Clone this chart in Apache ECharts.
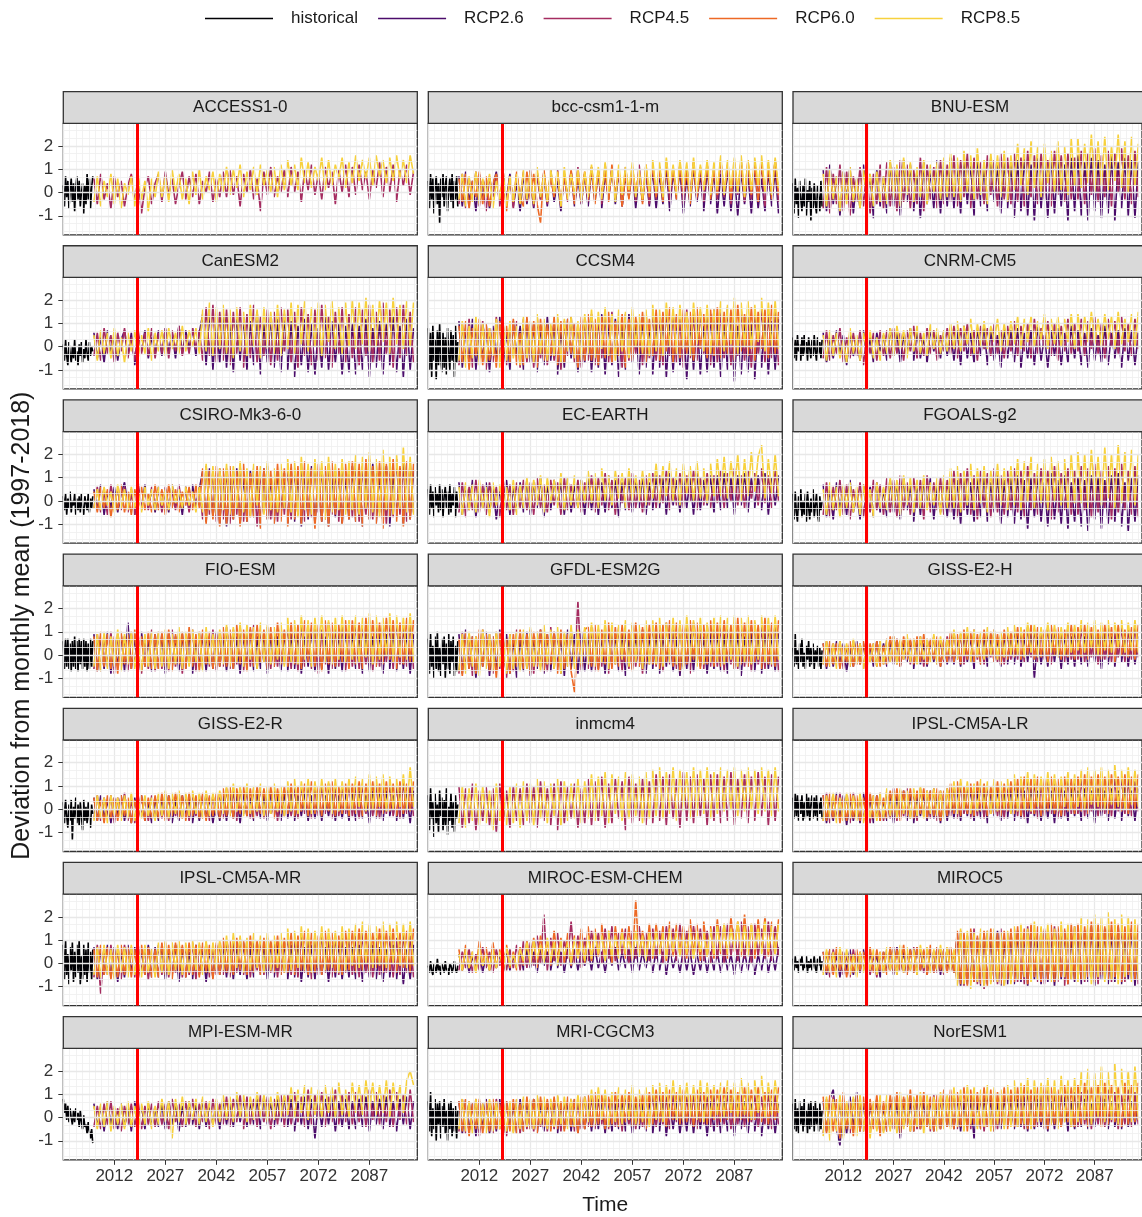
<!DOCTYPE html>
<html>
<head>
<meta charset="utf-8">
<script src="https://cdn.jsdelivr.net/npm/echarts@6/dist/echarts.min.js"></script>
<style>html,body{margin:0;padding:0;background:#fff}#chart{width:1142px;height:1217px}</style>
</head>
<body>
<div id="chart"></div>
<script>
// Monthly deviation series, stored in tenths of a unit.
// historical: 3 samples per year from 1997; RCP runs: one sample per year from 2006 to 2100.

const ACCESS1_0_hist = [3,-6,7,-2,5,-7,1,6,-4,4,-8,2,7,-3,5,-6,0,4,-9,3,-5,8,-3,6,-7,2,7];
const ACCESS1_0_rcp45 = [6,-5,8,-3,4,-7,7,-2,5,-6,3,8,-4,6,-9,2,7,-5,4,
8,-4,9,-1,6,-5,3,9,-3,7,-2,8,-5,5,0,9,-4,6,-2,
9,-2,10,-1,7,-6,8,0,10,-3,6,-8,9,-1,11,-2,7,0,10,
-2,11,0,9,-4,10,1,12,-1,8,-3,11,2,9,-5,10,0,12,-2,
11,-1,12,1,9,-3,10,2,13,-2,11,0,12,-4,10,3,12,-1,9];
const ACCESS1_0_rcp85 = [-4,7,-6,5,-2,8,-5,6,-7,4,-1,7,-6,8,-3,5,-8,6,-2,
9,-2,7,-4,10,0,8,-3,6,-5,9,-1,10,-3,7,1,9,-4,8,
0,11,-1,10,2,12,-2,9,1,11,-1,12,3,10,0,11,-2,12,1,
14,3,12,1,15,4,13,2,11,5,15,1,14,3,12,6,15,2,13,
4,16,5,14,6,15,3,16,7,14,4,15,5,16,6,14,4,16,8];

const bcc_csm1_1_m_hist = [5,-7,8,-3,6,-9,2,7,-5,4,-13,6,-2,8,-6,3,7,-8,1,6,-4,8,-7,5,-3,7,-6];
const bcc_csm1_1_m_rcp26 = [7,-6,9,-4,5,-8,8,-2,6,-7,3,9,-5,7,-3,8,-6,4,-8,
8,-5,6,-7,9,-3,7,-6,10,-4,5,-8,8,-2,9,-6,6,-5,8,
-6,10,-4,9,-7,8,-3,11,-5,9,-6,7,-2,10,-7,8,-4,9,-6,
10,-7,8,-5,11,-8,9,-3,10,-9,7,-6,11,-4,8,-8,10,-5,9,
-9,8,-6,10,-8,7,-10,9,-5,8,-9,11,-7,6,-8,9,-6,10,-9];
const bcc_csm1_1_m_rcp45 = [-5,8,-7,6,-3,9,-6,5,-8,7,-2,8,-6,9,-4,6,-7,8,-3,
9,-4,10,-6,7,-3,9,-5,8,-2,10,-6,7,-4,9,-3,11,-5,8,
-4,11,-2,9,-5,12,-3,10,-1,8,-6,11,-2,10,-4,12,-3,9,-5,
12,-3,11,-1,13,-4,10,-2,12,-5,11,0,13,-3,10,-4,12,-1,11,
-3,13,-2,11,-5,12,-1,14,-4,10,-3,13,-2,12,-6,11,-1,14,-4];
const bcc_csm1_1_m_rcp60 = [6,-4,8,-7,5,-2,9,-5,7,-6,4,8,-3,6,-8,7,-4,9,-2,
-6,9,-3,8,-5,-13,10,-4,7,-2,9,-6,8,-3,10,-5,7,-1,9,
-3,11,-5,10,-1,9,-4,12,-2,10,-6,8,-3,11,0,9,-5,12,-2,
12,-2,10,-4,13,0,11,-3,12,-1,9,-5,13,-2,11,1,12,-3,10,
-1,14,0,12,-3,13,1,11,-2,14,-1,12,-4,13,0,11,-3,14,-1];
const bcc_csm1_1_m_rcp85 = [-3,8,-6,7,-4,9,-5,6,-2,8,-7,5,-3,9,-6,7,-4,8,-5,
10,-3,9,-5,11,-2,8,-4,10,0,9,-6,11,-3,8,-1,10,-4,9,
-2,12,-1,11,-3,13,0,10,-4,12,-1,11,1,13,-2,10,-3,12,0,
14,0,13,-2,15,1,12,-1,14,2,13,-3,15,0,12,1,14,-1,13,
1,16,-1,14,2,15,0,16,-2,14,1,15,3,16,0,14,-1,15,2];

const BNU_ESM_hist = [4,-9,6,-5,2,-11,5,-3,-8,3,-6,6,-10,1,-4,5,-12,2,-7,4,-5,-9,3,-2,-8,5,-6];
const BNU_ESM_rcp26 = [10,-8,12,-5,7,-10,9,-3,11,-9,6,-7,12,-4,8,-11,10,-6,7,
-9,13,-6,11,-10,14,-4,12,-8,10,-11,13,-5,9,-7,14,-9,11,-6,
15,-7,12,-9,14,-5,13,-10,16,-6,11,-8,15,-4,12,-9,14,-7,13,
-11,14,-8,16,-10,12,-12,15,-7,13,-11,16,-9,14,-6,12,-12,15,-8,
16,-10,13,-12,15,-8,14,-11,12,-9,16,-12,13,-7,15,-10,14,-11,13];
const BNU_ESM_rcp45 = [-7,11,-9,8,-5,12,-8,9,-10,7,-4,11,-6,10,-9,8,-5,12,-7,
13,-6,11,-8,14,-4,12,-7,10,-5,15,-8,12,-3,11,-7,14,-5,12,
-4,16,-6,14,-2,17,-7,15,-3,13,-5,16,-1,14,-6,17,-3,15,-5,
17,-4,15,-6,18,-2,16,-5,17,-3,14,-6,18,-1,16,-4,17,-3,15,
-3,18,-5,17,-1,19,-4,16,-2,18,-6,17,0,19,-3,16,-5,18,-2];
const BNU_ESM_rcp85 = [8,-6,10,-3,7,-8,9,-5,11,-4,6,-7,10,-2,8,-6,9,-4,7,
-5,14,-3,12,-6,15,-1,13,-4,11,-2,14,-5,12,0,13,-3,15,-2,
17,-2,15,-4,18,0,16,-3,19,-1,14,-5,17,1,16,-2,18,-4,16,
1,21,3,19,-1,22,2,20,-2,21,4,18,0,22,1,20,-1,23,3,
23,2,21,4,25,0,22,3,24,1,20,5,25,2,22,0,24,3,21];

const CanESM2_hist = [1,-6,3,-4,-8,2,-3,-7,0,-5,3,-6,-2,-8,1,-4,2,-7,-1,-5,3,-3,-6,2,-4,0,-2];
const CanESM2_rcp26 = [6,-5,4,-7,7,-3,5,-6,3,7,-4,6,-8,5,-2,7,-5,4,-3,
7,-4,8,-2,6,-5,9,-3,7,-1,8,-4,6,14,-8,16,-10,13,-7,
15,-9,12,-11,14,-6,13,-10,11,-8,15,-12,10,-7,13,-9,12,-11,14,
-10,11,-13,9,-8,12,-11,10,-12,8,-9,13,-10,11,-7,10,-12,9,-11,
10,-12,9,-10,12,-13,8,-9,11,-12,10,-8,13,-11,9,-13,12,-10,8];
const CanESM2_rcp45 = [-4,6,-6,8,-3,5,-7,6,-2,8,-5,4,-6,7,-3,6,-4,8,-5,
6,-3,8,-5,7,-2,9,-4,5,-3,8,-1,7,-6,17,-4,18,-7,15,
-6,16,-8,15,-3,17,-9,14,-5,18,-7,13,-4,16,-8,15,-6,17,-2,
16,-7,15,-9,17,-4,14,-8,16,-6,18,-5,13,-9,15,-3,17,-7,14,
-5,17,-8,16,-4,18,-7,15,-6,19,-3,16,-9,17,-5,18,-4,15,-7];
const CanESM2_rcp85 = [5,-6,7,-3,6,-5,8,-4,4,-7,6,-2,7,-5,5,-3,8,-6,6,
-2,7,-4,8,-1,6,-3,9,-2,7,0,8,-3,16,-2,19,-4,17,-1,
18,-3,16,-5,17,-2,15,-4,18,0,16,-5,17,-1,15,-3,18,-4,16,
-1,19,-3,18,1,20,-2,17,0,19,-4,18,2,20,-1,17,-3,19,0,
20,-1,19,1,21,-2,18,0,20,2,19,-3,21,1,18,-1,20,0,19];

const CCSM4_hist = [8,-10,6,-13,9,-6,3,-14,7,-8,10,-5,-11,6,-9,4,-12,8,-3,-10,7,-6,5,-13,9,-7,2];
const CCSM4_rcp26 = [11,-9,8,-7,12,-10,6,-5,10,-11,9,-6,13,-8,7,-10,11,-4,9,
-10,12,-7,10,-11,9,-8,13,-6,11,-12,8,-9,12,-5,10,-11,9,-7,
13,-11,10,-9,14,-12,11,-8,12,-13,9,-10,14,-7,11,-12,13,-9,10,
-12,12,-9,14,-13,10,-11,13,-8,12,-14,11,-10,13,-12,9,-11,14,-9,
12,-13,11,-10,14,-15,9,-12,13,-11,10,-14,12,-9,13,-12,11,-10,12];
const CCSM4_rcp45 = [-8,10,-6,12,-9,9,-5,11,-10,8,-7,13,-6,10,-8,9,-4,11,-9,
12,-7,10,-9,13,-5,11,-8,9,-6,12,-10,11,-4,13,-7,10,-9,12,
-6,14,-8,12,-5,13,-7,15,-4,11,-9,14,-6,12,-3,13,-8,15,-5,
15,-6,13,-8,16,-4,14,-7,12,-9,16,-5,14,-6,15,-3,13,-8,16,
-7,15,-5,17,-8,14,-4,16,-6,13,-9,15,-3,17,-7,14,-5,16,-8];
const CCSM4_rcp60 = [9,-7,11,-10,8,-4,12,-8,10,-6,7,-9,11,-5,9,-7,12,-8,6,
-8,13,-5,11,-9,12,-6,10,-4,13,-8,11,-7,12,-3,10,-9,13,-6,
14,-6,12,-8,13,-5,15,-7,11,-4,14,-9,12,-6,13,-3,15,-7,12,
-4,16,-6,15,-2,17,-7,14,-5,16,-3,15,-6,17,-1,14,-5,16,-4,
17,-5,15,-3,16,-6,18,-2,14,-4,17,-6,15,-1,16,-5,18,-3,15];
const CCSM4_rcp85 = [-6,11,-9,9,-5,13,-8,10,-7,8,-4,12,-9,10,-6,11,-5,9,-8,
13,-5,11,-7,14,-3,12,-6,10,-4,14,-7,12,-2,13,-5,11,-6,14,
-3,16,-5,15,-1,17,-4,14,-6,16,-2,15,-5,17,0,14,-3,16,-4,
18,-2,16,-4,19,0,17,-3,18,-1,15,-4,19,1,17,-2,18,-3,16,
0,20,-2,18,1,21,-3,19,0,20,-1,18,2,21,-2,19,0,20,-1];

const CNRM_CM5_hist = [4,-5,3,-6,5,-2,1,-6,4,-4,5,-3,2,-6,4,-1,-5,3,-4,5,-2,-6,4,-3,2,-5,3];
const CNRM_CM5_rcp26 = [6,-7,4,-5,7,-3,5,-8,6,-4,3,-6,7,-5,4,-7,6,-2,5,
-6,8,-4,6,-7,5,-3,8,-6,7,-5,4,-7,8,-2,6,-5,7,-4,
8,-6,7,-8,9,-5,6,-7,8,-4,9,-8,7,-6,5,-9,8,-5,7,
-7,8,-9,6,-5,7,-8,9,-6,5,-9,7,-4,8,-8,6,-7,9,-5,
7,-8,6,-9,8,-6,5,-7,9,-8,6,-5,7,-9,8,-6,7,-8,6];
const CNRM_CM5_rcp45 = [-5,7,-6,5,-3,8,-7,4,-5,6,-4,7,-8,5,-3,6,-6,7,-4,
7,-5,8,-3,6,-6,7,-2,9,-5,6,-4,8,-3,7,-6,5,-2,8,
-3,9,-5,8,-2,10,-4,7,-6,9,-1,8,-4,10,-3,7,-5,9,-2,
11,-4,9,-2,10,-5,12,-3,8,-1,11,-4,10,-6,9,-2,12,-3,10,
-2,12,-4,11,-1,13,-3,10,-5,12,0,11,-3,13,-2,10,-4,12,-1];
const CNRM_CM5_rcp85 = [5,-6,7,-4,6,-5,3,-7,8,-3,5,-6,6,-2,7,-5,4,-6,6,
-3,8,-4,9,-1,7,-5,8,-2,9,-3,6,-4,10,-1,8,-3,7,-2,
10,-1,11,-2,9,1,12,-3,10,0,11,-1,9,2,12,-2,10,0,11,
1,13,-1,12,2,13,0,11,3,14,-1,12,1,13,0,12,2,14,-1,
14,0,13,2,15,1,12,0,14,3,13,-1,15,1,12,2,14,0,15];

const CSIRO_Mk3_6_0_hist = [2,-4,3,-6,1,-3,4,-5,0,-2,3,-6,1,-4,2,-5,3,-3,-6,2,-1,-4,3,-5,1,-3,2];
const CSIRO_Mk3_6_0_rcp26 = [5,-4,7,-6,4,-3,6,-5,3,8,-2,5,-6,4,-4,7,-3,5,-5,
6,-3,5,-5,7,-2,4,-6,6,-4,7,-3,5,13,-9,14,-7,12,-10,
13,-11,12,-8,14,-10,11,-9,13,-7,12,-11,14,-8,10,-10,13,-6,12,
-10,14,-9,12,-11,13,-8,15,-10,11,-9,14,-11,12,-7,13,-10,11,-8,
15,-9,13,-11,14,-8,16,-10,12,-9,15,-11,13,-7,14,-10,16,-8,13];
const CSIRO_Mk3_6_0_rcp45 = [-3,6,-5,4,-6,7,-2,5,-4,6,-5,3,-6,8,-3,5,-4,6,-2,
5,-5,6,-2,4,-4,7,-3,6,-5,4,-2,6,-8,15,-6,13,-9,14,
-8,14,-10,13,-6,15,-9,12,-7,14,-11,13,-5,15,-8,12,-9,14,-6,
15,-8,14,-6,16,-9,13,-7,15,-5,14,-8,16,-6,13,-9,15,-4,14,
-7,17,-9,15,-6,18,-8,16,-5,17,-10,15,-7,18,-6,16,-9,17,-5];
const CSIRO_Mk3_6_0_rcp60 = [4,-5,6,-3,5,-7,3,-4,7,-5,4,-6,5,-2,6,-4,3,-5,7,
-4,5,-6,7,-3,5,-5,4,-2,6,-4,7,-3,14,-10,13,-8,15,-11,
14,-10,15,-8,13,-11,16,-9,12,-7,15,-12,14,-8,13,-10,16,-9,14,
-11,16,-8,15,-10,17,-7,14,-12,16,-9,15,-11,17,-6,14,-10,16,-8,
17,-9,16,-11,18,-8,15,-10,17,-12,16,-7,18,-9,15,-11,17,-8,16];
const CSIRO_Mk3_6_0_rcp85 = [-3,5,-4,6,-2,4,-5,7,-3,5,-4,6,-3,4,-5,6,-2,5,-4,
6,-2,5,-4,7,-1,5,-3,6,-2,4,-5,6,-5,16,-4,15,-6,14,
-4,16,-6,15,-3,17,-5,14,-7,16,-2,15,-6,17,-4,14,-5,16,-3,
18,-5,17,-7,19,-4,16,-6,18,-3,17,-8,19,-5,16,-4,18,-6,17,
-4,20,-6,19,-3,21,-5,18,-7,22,-4,19,-6,20,-3,23,-5,19,-6];

const EC_EARTH_hist = [5,-6,7,-3,4,-7,6,-2,3,-5,7,-4,5,-7,2,6,-3,4,-6,7,-5,3,-2,6,-7,4,-3];
const EC_EARTH_rcp26 = [8,-6,7,-4,9,-7,6,-3,8,-5,7,-8,5,-4,9,-6,6,-5,8,
-5,9,-6,8,-3,10,-7,7,-4,9,-2,8,-6,10,-5,7,-3,9,-6,
10,-4,9,-6,8,-5,11,-3,9,-7,8,-4,10,-5,9,-3,11,-6,8,
-4,11,-3,10,-6,12,-2,9,-5,11,-3,10,-6,12,-4,9,-2,11,-5,
11,-4,12,-3,10,-6,11,-2,12,-5,10,-3,11,-4,12,-6,10,-2,11];
const EC_EARTH_rcp45 = [-5,8,-7,6,-4,9,-5,7,-6,8,-3,6,-7,9,-4,7,-6,8,-3,
9,-4,8,-6,10,-3,7,-5,9,-2,8,-6,10,-4,7,-3,9,-5,8,
-3,11,-5,10,-2,12,-4,9,-6,11,-1,10,-4,12,-3,9,-5,11,-2,
12,-3,11,-1,13,-4,10,-2,12,-3,11,0,13,-4,10,-2,12,-3,11,
-1,13,-3,12,0,14,-2,11,-3,13,1,12,-2,14,-1,11,-3,13,0];
const EC_EARTH_rcp85 = [6,-6,8,-4,7,-5,9,-3,6,-7,8,-2,7,-5,6,-4,9,-6,7,
-3,10,-4,9,-2,11,-5,10,-1,9,-3,12,-4,10,-2,11,-3,9,-1,
13,-1,12,-3,14,0,11,-2,13,1,12,-3,14,-1,11,0,13,-2,12,
1,16,-1,15,2,17,0,14,-2,16,3,15,0,17,1,14,-1,16,2,
18,2,19,1,17,3,20,0,18,2,21,4,19,24,1,18,3,20,2];

const FGOALS_g2_hist = [3,-8,4,-5,-9,2,-4,5,-7,0,-6,3,-9,4,-3,-8,1,-5,5,-7,-2,3,-6,-9,2,-4,0];
const FGOALS_g2_rcp26 = [7,-7,5,-8,8,-4,6,-6,9,-5,4,-8,7,-3,6,-7,8,-5,5,
-7,9,-5,8,-8,10,-4,7,-9,8,-6,9,-3,10,-8,7,-5,9,-7,
10,-8,9,-10,11,-6,8,-9,10,-7,12,-9,8,-5,11,-10,9,-7,10,
-10,11,-8,9,-12,10,-7,11,-9,8,-11,12,-8,9,-10,11,-12,8,-9,
10,-11,9,-13,11,-8,10,-12,9,-10,11,-9,12,-11,8,-13,10,-9,11];
const FGOALS_g2_rcp45 = [-6,8,-7,6,-4,9,-6,7,-8,5,-3,8,-7,6,-5,9,-4,7,-6,
10,-5,9,-7,11,-4,8,-6,10,-3,9,-8,11,-5,8,-4,10,-6,9,
-5,13,-7,12,-4,14,-6,11,-8,13,-3,12,-7,14,-5,11,-6,13,-4,
14,-5,13,-7,15,-4,12,-6,14,-3,13,-8,15,-5,12,-4,14,-6,13,
-6,15,-4,14,-7,16,-5,13,-3,15,-8,14,-5,16,-4,13,-6,15,-7];
const FGOALS_g2_rcp85 = [5,-6,8,-4,6,-7,7,-3,8,-5,6,-6,7,-4,5,-7,8,-3,6,
-4,10,-3,9,-6,11,-2,10,-5,9,-3,11,-4,8,-2,10,-6,11,-3,
14,-3,15,-5,13,-2,16,-4,14,-1,15,-5,13,-3,16,-2,14,-4,15,
-2,18,-4,17,0,19,-3,16,-1,18,-4,19,0,17,-2,18,-3,20,-1,
21,-1,20,-3,22,0,19,-2,23,1,20,-3,24,-1,21,0,22,-2,20];

const FIO_ESM_hist = [6,-6,7,-5,7,-6,5,-7,6,-5,8,-6,6,-7,7,-4,6,-6,7,-5,6,-7,5,-6,7,-5,6];
const FIO_ESM_rcp26 = [9,-7,8,-6,10,-8,7,-5,9,-7,14,-6,8,-8,10,-5,7,-7,9,
-6,9,-8,10,-5,8,-7,9,-6,10,-8,7,-5,9,-7,8,-6,10,-5,
9,-7,10,-6,8,-8,9,-5,11,-7,8,-6,10,-8,9,-5,8,-7,10,
-7,9,-6,10,-8,8,-5,11,-7,9,-6,8,-8,10,-6,9,-7,11,-5,
10,-6,9,-8,11,-7,8,-5,10,-8,9,-6,11,-7,8,-6,10,-8,9];
const FIO_ESM_rcp45 = [-6,9,-7,8,-5,10,-8,9,-6,8,-7,10,-5,9,-8,8,-6,11,-7,
10,-6,9,-7,11,-5,10,-8,9,-4,11,-7,10,-6,9,-5,11,-7,10,
-5,12,-6,11,-4,12,-7,10,-5,13,-6,11,-3,12,-6,10,-5,12,-4,
13,-6,12,-7,14,-5,12,-6,13,-8,11,-4,14,-6,12,-5,13,-7,12,
-5,14,-6,13,-4,15,-7,12,-5,14,-3,13,-6,15,-4,12,-5,14,-6];
const FIO_ESM_rcp60 = [8,-7,10,-5,9,-6,8,-8,10,-4,9,-6,11,-7,8,-5,10,-6,9,
-6,10,-5,11,-7,9,-4,10,-6,12,-5,9,-7,11,-4,10,-6,9,-5,
12,-5,11,-6,13,-4,11,-7,12,-5,13,-3,11,-6,12,-5,14,-4,11,
-5,14,-4,13,-6,15,-3,14,-5,13,-7,15,-4,14,-5,13,-3,15,-6,
15,-4,14,-6,16,-3,15,-5,14,-4,16,-2,15,-6,14,-4,16,-3,15];
const FIO_ESM_rcp85 = [-5,9,-7,10,-6,8,-5,11,-7,9,-4,10,-6,8,-7,9,-5,10,-6,
10,-5,11,-6,9,-4,12,-6,10,-5,11,-3,10,-7,12,-4,9,-5,11,
-4,13,-5,12,-3,14,-5,13,-2,12,-6,14,-3,13,-4,12,-2,14,-5,
16,-3,15,-4,17,-2,15,-5,16,-1,17,-3,15,-4,16,-2,17,-3,15,
-2,17,-3,16,-1,18,-4,17,-2,16,0,18,-3,17,-1,16,-2,18,-3];

const GFDL_ESM2G_hist = [7,-8,9,-5,4,-10,8,-6,10,-7,3,-9,7,-4,8,-10,5,-6,9,-8,6,-3,8,-9,4,-7,6];
const GFDL_ESM2G_rcp26 = [9,-8,11,-6,8,-10,7,-5,10,-9,8,-7,11,-6,9,-8,7,-10,8,
-7,10,-9,8,-6,11,-8,9,-7,10,-5,8,-9,11,-6,9,-8,10,-7,
9,-7,10,-6,8,-8,11,-5,9,-7,10,-9,8,-6,9,-5,11,-8,9,
-6,10,-8,9,-5,11,-7,8,-9,10,-6,9,-7,11,-5,8,-8,10,-6,
10,-7,9,-8,11,-6,10,-9,8,-5,10,-7,9,-8,11,-6,9,-7,10];
const GFDL_ESM2G_rcp45 = [-8,10,-6,9,-9,8,-7,11,-5,9,-8,10,-6,8,-10,9,-7,11,-6,
9,-6,11,-8,10,-5,9,-7,12,-6,10,-8,9,-5,11,-4,23,-7,10,
-6,12,-7,11,-5,13,-8,10,-4,12,-7,11,-6,13,-5,10,-8,12,-4,
13,-5,12,-7,14,-4,11,-6,13,-5,12,-8,14,-4,11,-6,13,-5,12,
-5,13,-7,12,-4,14,-6,13,-5,11,-7,14,-4,12,-6,13,-5,14,-7];
const GFDL_ESM2G_rcp60 = [7,-9,10,-6,8,-8,11,-5,9,-7,8,-10,10,-6,7,-8,9,-5,11,
-6,9,-8,10,-5,11,-7,9,-4,10,-8,11,-6,9,-7,-16,10,-5,11,
12,-5,13,-7,11,-4,14,-6,12,-5,13,-3,11,-7,14,-5,12,-4,13,
-4,14,-6,13,-3,15,-5,14,-7,13,-4,15,-2,14,-6,13,-4,15,-5,
14,-5,15,-3,13,-6,16,-4,14,-5,15,-3,13,-6,16,-4,14,-5,15];
const GFDL_ESM2G_rcp85 = [-7,9,-8,10,-5,8,-9,11,-6,9,-7,10,-5,8,-8,9,-6,10,-7,
11,-6,12,-5,10,-7,13,-4,11,-6,12,-8,10,-5,13,-6,11,-4,12,
-4,14,-5,13,-3,15,-6,14,-4,13,-2,15,-5,14,-3,13,-6,15,-4,
15,-4,16,-5,14,-3,16,-4,15,-6,17,-3,15,-5,16,-4,14,-3,16,
-3,17,-4,16,-2,17,-5,16,-3,17,-4,15,-2,17,-3,16,-4,17,-2];

const GISS_E2_H_hist = [3,-5,9,-4,2,-6,5,-3,7,-5,1,-6,4,-2,6,-5,3,-4,5,-6,2,-3,4,-5,3,-6,2];
const GISS_E2_H_rcp26 = [5,-6,4,-5,6,-4,5,-7,3,-5,6,-4,5,-6,4,-5,6,-3,5,
-5,6,-4,7,-5,5,-3,6,-6,7,-4,5,-5,6,-3,7,-5,6,-4,
8,-4,7,-5,9,-3,8,-6,7,-4,9,-5,8,-3,7,-5,9,-4,8,
-4,9,-5,8,-3,9,-10,8,-4,7,-5,9,-3,8,-6,9,-4,8,-5,
9,-4,8,-5,9,-3,8,-6,10,-4,8,-5,9,-3,7,-5,9,-4,8];
const GISS_E2_H_rcp45 = [-4,6,-5,5,-3,6,-6,4,-5,6,-4,5,-6,7,-3,5,-5,6,-4,
7,-3,8,-4,6,-2,8,-4,7,-3,8,-5,7,-2,8,-4,6,-3,8,
-3,10,-2,9,-4,10,-3,11,-2,9,-4,10,-1,11,-3,9,-4,10,-2,
11,-2,10,-3,12,-1,11,-3,10,-2,12,-4,11,-1,10,-3,12,-2,11,
-2,12,-3,11,-1,12,-4,11,-2,12,-3,10,-1,12,-3,11,-2,12,-1];
const GISS_E2_H_rcp60 = [5,-5,6,-4,5,-6,4,-3,6,-5,5,-4,6,-6,5,-3,6,-5,4,
-4,8,-3,7,-5,8,-2,7,-4,8,-3,9,-4,7,-2,8,-5,7,-3,
10,-3,9,-4,11,-2,10,-3,9,-4,11,-1,10,-3,9,-4,11,-2,10,
-1,12,-2,11,0,13,-2,12,-1,11,-3,13,0,12,-2,11,-1,13,-2,
12,-1,13,-2,12,0,11,-2,13,-1,12,-3,13,0,11,-1,12,-2,13];
const GISS_E2_H_rcp85 = [-4,6,-5,5,-6,6,-3,5,-5,7,-4,5,-6,6,-3,5,-5,6,-4,
7,-3,8,-4,7,-2,9,-3,7,-4,8,-2,7,-3,9,-4,8,-2,7,
-1,11,-2,10,0,12,-3,11,-1,10,-2,12,0,11,-2,10,-1,12,0,
13,0,12,-1,14,1,13,-1,12,0,14,1,13,-1,12,0,14,1,13,
2,15,1,14,3,15,0,14,2,15,1,14,3,15,1,14,2,15,1];

const GISS_E2_R_hist = [3,-6,4,-3,-8,2,-5,4,-13,1,-4,5,-6,2,-7,3,-3,-9,4,-5,1,-6,3,-4,-8,2,-2];
const GISS_E2_R_rcp26 = [5,-5,6,-4,4,-6,5,-3,6,-5,4,-6,5,-4,6,-5,3,-6,5,
-5,5,-4,6,-6,4,-5,6,-3,5,-6,4,-5,6,-4,5,-6,4,-5,
6,-5,7,-4,6,-6,7,-3,5,-5,7,-4,6,-5,7,-3,6,-5,7,
-4,7,-5,6,-3,7,-5,6,-4,8,-5,6,-3,7,-5,6,-4,7,-5,
7,-5,8,-4,6,-6,8,-4,7,-5,8,-3,6,-5,8,-4,7,-6,8];
const GISS_E2_R_rcp45 = [-4,6,-5,5,-3,6,-6,5,-4,7,-5,4,-6,6,-3,5,-5,6,-4,
6,-4,7,-5,6,-3,7,-4,6,-5,7,-3,6,-4,7,-5,6,-3,7,
-4,9,-3,8,-5,9,-2,8,-4,9,-3,10,-4,8,-2,9,-5,8,-3,
10,-3,9,-4,10,-2,11,-4,9,-3,10,-2,11,-4,9,-3,10,-2,11,
-3,10,-4,11,-2,10,-3,11,-4,10,-2,11,-3,10,-4,12,-2,10,-3];
const GISS_E2_R_rcp60 = [5,-5,4,-6,6,-4,5,-5,6,-3,5,-6,4,-4,6,-5,5,-4,6,
-4,7,-5,6,-3,7,-4,6,-5,7,-3,6,-4,7,-5,6,-3,7,-4,
9,-3,10,-4,9,-2,10,-3,9,-4,10,-2,9,-3,10,-4,9,-2,10,
-2,11,-3,10,-1,11,-3,12,-2,10,-3,11,-1,12,-3,10,-2,11,-3,
11,-2,12,-3,11,-1,12,-3,11,-2,12,-1,11,-3,12,-2,11,-1,12];
const GISS_E2_R_rcp85 = [-5,6,-4,5,-6,6,-3,5,-5,6,-4,7,-5,5,-4,6,-3,5,-5,
7,-3,8,-4,7,-2,8,-4,7,-3,8,-2,7,-4,8,-3,7,-2,8,
-2,10,-3,11,-1,10,-3,11,-2,10,-1,11,-3,10,-2,11,-1,10,-3,
12,-1,13,-2,12,0,13,-2,12,-1,13,0,12,-2,13,-1,12,0,13,
0,14,1,13,-1,15,0,14,1,15,-1,14,0,13,1,15,0,18,1];

const inmcm4_hist = [6,-9,9,-4,3,-12,7,-6,2,-10,8,-3,5,-9,4,-7,9,-11,1,-5,7,-8,3,-10,6,-4,2];
const inmcm4_rcp45 = [10,-8,9,-6,11,-9,8,-5,10,-7,9,-10,11,-6,8,-8,10,-5,9,
-7,11,-6,10,-8,12,-5,9,-7,11,-9,12,-6,10,-4,11,-8,9,-6,
13,-7,12,-5,14,-8,11,-6,13,-4,12,-9,14,-6,11,-5,13,-7,12,
-6,15,-5,14,-7,15,-4,13,-8,16,-5,14,-6,15,-3,13,-7,15,-5,
15,-6,14,-5,16,-7,13,-4,15,-6,14,-5,16,-3,14,-7,15,-5,14];
const inmcm4_rcp85 = [-6,10,-8,9,-5,11,-7,10,-6,8,-9,11,-5,9,-7,10,-6,11,-8,
12,-5,11,-7,13,-4,12,-6,11,-3,13,-7,12,-5,11,-4,13,-6,12,
-4,15,-5,14,-3,16,-6,15,-2,14,-5,16,-4,15,-3,14,-6,16,-4,
17,-3,18,-4,16,-2,18,-5,17,-1,16,-4,18,-3,17,-2,18,-4,16,
-2,18,-1,17,0,18,-3,17,-1,18,0,17,-2,18,-1,17,-3,18,-1];

const IPSL_CM5A_LR_hist = [5,-4,7,-3,6,-5,4,-2,6,-5,3,-4,7,-3,5,-5,2,6,-4,5,-3,6,-5,3,-2,5,-4];
const IPSL_CM5A_LR_rcp26 = [6,-6,5,-5,7,-4,6,-7,5,-5,4,-6,7,-4,5,-6,6,-5,4,
-5,7,-6,6,-4,8,-5,7,-6,6,-3,7,-5,8,-4,6,-6,7,-5,
8,-4,9,-5,7,-3,9,-5,8,-4,9,-6,8,-3,9,-5,7,-4,9,
-5,9,-4,8,-6,9,-3,8,-5,9,-4,8,-6,10,-4,8,-5,9,-3,
8,-5,9,-4,8,-6,9,-3,8,-5,9,-4,8,-5,10,-3,8,-5,9];
const IPSL_CM5A_LR_rcp45 = [-5,7,-6,5,-4,7,-5,6,-6,7,-4,5,-5,7,-6,6,-4,7,-5,
8,-4,9,-5,8,-3,9,-4,8,-5,9,-3,8,-4,9,-5,8,-3,9,
-3,10,-4,11,-2,10,-4,9,-3,11,-4,10,-2,11,-3,10,-4,9,-2,
12,-3,11,-4,13,-2,12,-4,11,-3,13,-2,12,-4,11,-3,13,-2,12,
-2,13,-3,14,-1,13,-3,12,-2,14,-3,13,-1,14,-2,13,-3,12,-1];
const IPSL_CM5A_LR_rcp60 = [6,-5,7,-4,6,-6,5,-5,7,-4,6,-5,5,-6,7,-4,6,-5,5,
-4,8,-3,9,-5,8,-3,9,-4,8,-2,9,-4,8,-3,9,-5,8,-3,
11,-2,12,-3,10,-2,11,-3,12,-1,11,-3,10,-2,12,-3,11,-1,12,
-2,13,-3,14,-1,13,-2,14,-3,13,-1,14,-2,13,-3,14,-1,13,-2,
14,-1,15,-2,14,0,15,-1,14,-2,15,0,14,-1,15,-2,14,0,15];
const IPSL_CM5A_LR_rcp85 = [-5,6,-4,7,-6,5,-5,7,-4,6,-5,7,-6,5,-4,6,-5,7,-4,
9,-3,8,-4,9,-2,8,-4,9,-3,10,-4,8,-2,9,-3,8,-4,9,
-1,12,-2,13,0,12,-2,11,-1,13,0,12,-2,13,-1,12,0,13,-2,
15,-1,14,0,16,-1,15,1,14,-1,16,0,15,-1,14,1,16,0,15,
1,17,0,18,2,17,1,18,0,17,2,19,1,17,0,18,2,17,1];

const IPSL_CM5A_MR_hist = [8,-7,10,-5,4,-9,7,-3,9,-8,5,-6,8,-4,10,-9,3,-7,8,-5,6,-8,9,-4,5,-7,6];
const IPSL_CM5A_MR_rcp26 = [7,-7,6,-5,8,-6,7,-8,5,-6,8,-4,7,-7,6,-5,8,-6,7,
-6,8,-7,6,-5,8,-8,7,-6,5,-7,8,-5,7,-8,6,-6,8,-5,
8,-6,9,-7,8,-5,9,-7,7,-6,9,-5,8,-7,9,-6,8,-5,9,
-7,8,-6,9,-8,7,-6,8,-7,9,-5,7,-8,8,-6,9,-7,7,-6,
7,-7,8,-8,6,-6,8,-7,7,-8,6,-6,8,-7,7,-9,6,-7,8];
const IPSL_CM5A_MR_rcp45 = [-6,8,-13,7,-5,8,-6,6,-7,8,-5,7,-6,8,-4,7,-7,6,-5,
8,-5,9,-6,7,-4,9,-6,8,-5,9,-7,8,-4,9,-6,7,-5,9,
-5,10,-6,9,-4,11,-5,10,-6,9,-3,10,-5,11,-4,9,-6,10,-4,
12,-5,11,-6,12,-4,11,-7,12,-5,13,-4,11,-6,12,-5,11,-4,12,
-5,12,-6,13,-4,12,-6,11,-5,13,-4,12,-6,11,-5,13,-4,12,-6];
const IPSL_CM5A_MR_rcp60 = [6,-6,8,-5,7,-7,6,-6,8,-5,7,-6,6,-7,8,-5,7,-6,6,
-6,9,-5,8,-7,9,-4,8,-6,9,-5,8,-6,9,-4,8,-7,9,-5,
11,-4,10,-5,11,-3,10,-5,12,-4,10,-5,11,-3,10,-4,12,-5,11,
-4,13,-5,12,-3,14,-5,13,-4,12,-5,14,-3,13,-4,12,-5,14,-3,
14,-4,15,-3,14,-4,13,-2,15,-4,14,-3,15,-4,13,-2,14,-4,15];
const IPSL_CM5A_MR_rcp85 = [-5,7,-6,8,-5,6,-7,8,-4,7,-6,8,-5,7,-6,8,-4,6,-6,
9,-4,10,-5,9,-3,10,-5,9,-4,10,-3,9,-5,10,-4,9,-3,10,
-3,12,-4,13,-2,12,-4,11,-3,13,-2,12,-4,13,-3,12,-2,13,-4,
15,-3,14,-2,16,-3,15,-4,14,-2,16,-3,15,-2,14,-4,16,-3,15,
-1,17,-2,18,0,17,-2,16,-1,18,-2,17,0,18,-1,17,-2,18,-1];

const MIROC_ESM_CHEM_hist = [-1,-4,1,-3,-5,0,-2,-4,2,-3,-1,-5,0,-2,-4,1,-3,-2,-5,0,-1,-4,-2,1,-3,-4,-1];
const MIROC_ESM_CHEM_rcp26 = [4,-3,5,-4,3,-2,6,-4,4,-3,5,-2,4,-4,6,-3,3,-2,5,
-3,6,-2,5,-4,7,-1,5,-3,6,-2,5,-4,7,-2,6,-3,5,-1,
6,-3,7,-2,5,-4,6,-1,7,-3,5,-2,6,-4,7,-3,5,-2,6,
-4,6,-3,5,-5,6,-2,4,-4,6,-3,5,-5,4,-3,6,-4,5,-3,
5,-4,6,-3,4,-5,6,-4,5,-3,6,-5,4,-3,6,-4,5,-3,7];
const MIROC_ESM_CHEM_rcp45 = [-3,5,-2,6,-4,4,-3,7,-2,5,-4,6,-1,5,-3,6,-2,8,-3,
10,-2,9,-1,12,0,21,-3,11,1,13,-1,10,2,18,0,12,-2,11,
1,14,3,13,0,15,2,16,1,13,4,15,0,14,2,16,3,13,1,
15,2,14,0,16,3,15,1,17,0,14,2,16,4,15,1,14,0,16,
2,16,0,17,3,15,1,18,2,16,0,17,3,15,2,18,1,16,3];
const MIROC_ESM_CHEM_rcp60 = [6,-3,8,-2,5,-4,10,-1,7,-3,9,-2,6,-4,8,-2,5,-3,7,
-1,10,0,11,-2,12,1,10,-1,14,2,11,0,13,-1,12,3,15,0,
16,1,15,3,17,2,14,0,16,4,15,2,16,1,27,3,14,2,17,
2,17,4,16,1,18,3,17,5,16,2,19,4,17,1,18,3,16,2,
19,4,17,2,20,5,18,3,21,4,17,2,19,5,20,3,18,4,19];
const MIROC_ESM_CHEM_rcp85 = [4,-3,6,-2,5,-4,7,-1,4,-3,6,-2,5,-3,7,-1,4,-2,6,
1,9,-1,10,2,8,0,11,1,9,-1,10,3,9,0,11,2,10,1,
12,2,13,4,12,1,14,3,12,2,13,4,11,2,14,3,12,1,13,
3,14,4,13,2,15,5,14,3,13,4,15,2,14,5,13,3,15,4,
16,5,17,4,15,6,18,5,16,3,17,6,15,4,18,5,16,4,17];

const MIROC5_hist = [2,-3,3,-2,1,-4,2,-1,3,-3,0,-2,3,-4,1,-2,2,-3,0,3,-2,-4,2,-1,3,-3,1];
const MIROC5_rcp26 = [5,-5,6,-4,4,-6,5,-3,6,-5,4,-4,6,-5,5,-3,4,-6,5,
-4,6,-5,7,-3,5,-5,6,-4,7,-3,5,-5,6,-4,7,-5,6,-3,
6,-4,13,-10,12,-9,14,-8,11,-10,13,-9,12,-8,14,-10,11,-9,13,
-9,14,-8,13,-10,15,-7,12,-9,14,-8,13,-10,15,-7,14,-9,12,-8,
15,-9,14,-8,16,-10,13,-7,15,-9,14,-8,16,-9,13,-7,15,-10,14];
const MIROC5_rcp45 = [-4,5,-6,6,-3,5,-5,4,-6,6,-4,5,-3,6,-5,4,-6,5,-4,
6,-3,7,-5,6,-4,5,-3,7,-5,6,-4,7,-3,5,-4,6,-5,7,
-3,5,-9,14,-10,12,-8,15,-9,13,-11,14,-8,12,-9,15,-10,13,-8,
15,-8,14,-9,16,-7,13,-8,15,-9,14,-7,16,-8,15,-10,14,-7,16,
-7,16,-8,17,-6,15,-9,16,-7,18,-8,15,-6,17,-8,16,-7,15,-9];
const MIROC5_rcp60 = [5,-4,6,-5,7,-3,5,-6,4,-4,6,-3,5,-5,7,-4,6,-3,5,
-5,7,-4,6,-3,8,-5,6,-4,7,-3,6,-5,8,-4,7,-3,6,-4,
7,-4,14,-9,13,-10,15,-8,12,-9,14,-10,15,-8,13,-9,14,-7,15,
-8,16,-7,15,-9,17,-6,16,-8,15,-7,17,-8,16,-6,15,-9,17,-7,
17,-7,16,-6,18,-8,17,-5,16,-7,18,-6,17,-8,16,-5,18,-7,17];
const MIROC5_rcp85 = [-5,6,-4,5,-6,7,-3,6,-5,4,-6,5,-4,7,-3,6,-5,5,-4,
7,-3,6,-5,8,-4,7,-3,6,-5,8,-2,7,-4,6,-3,8,-4,7,
-3,6,-10,15,-9,14,-11,13,-8,15,-10,14,-9,15,-8,13,-10,14,-9,
16,-7,17,-6,15,-8,18,-7,16,-6,17,-8,15,-7,18,-6,17,-7,16,
-8,20,-7,19,-9,21,-6,20,-8,22,-7,19,-9,21,-6,20,-8,19,-7];

const MPI_ESM_MR_hist = [8,2,6,-1,5,-2,4,0,-3,3,-2,4,-1,2,-4,3,-2,-5,1,-4,-3,-7,-2,-6,-9,-5,-11];
const MPI_ESM_MR_rcp26 = [6,-4,5,-6,7,-3,4,-5,6,-4,5,-6,7,-3,5,-5,6,-4,4,
-4,6,-5,7,-3,6,-6,5,-4,7,-3,6,-5,8,-4,6,-3,7,-5,
8,-3,7,-4,9,-2,8,-4,7,-3,8,-5,9,-3,7,-4,8,-2,9,
-4,8,-6,7,-3,9,-5,8,-9,7,-4,8,-3,9,-6,7,-4,8,-5,
7,-5,8,-4,9,-6,7,-3,8,-5,9,-4,7,-6,8,-3,9,-5,7];
const MPI_ESM_MR_rcp45 = [-4,5,-5,6,-3,7,-5,4,-6,5,-3,6,-4,7,-5,5,-3,6,-4,
7,-3,6,-5,8,-2,6,-4,7,-3,8,-4,6,-2,7,-5,8,-3,6,
-3,9,-4,8,-2,10,-5,9,-3,8,-4,10,-2,9,-5,8,-3,10,-4,
10,-3,11,-2,9,-4,12,-3,10,-1,11,-4,9,-2,12,-3,10,-2,11,
-3,11,-2,10,-4,12,-1,11,-3,10,-2,12,-4,11,-1,10,-3,12,-2];
const MPI_ESM_MR_rcp85 = [5,-5,6,-4,7,-6,5,-3,6,-5,7,-4,5,-6,6,-3,7,-5,5,
-3,8,-2,7,-9,8,-2,9,-3,7,-1,8,-3,9,-2,7,-4,8,-2,
10,-1,9,-2,11,0,10,-2,9,-1,11,0,10,-2,9,-1,11,0,10,
1,13,0,12,2,14,-1,13,1,12,0,14,2,13,0,15,1,12,0,
15,2,14,1,16,3,15,1,14,2,16,0,15,3,14,2,16,20,14];

const MRI_CGCM3_hist = [7,-6,11,-8,4,-5,8,-10,6,-3,7,-9,5,-4,8,-7,3,-10,6,-5,7,-8,4,-6,5,-9,3];
const MRI_CGCM3_rcp26 = [7,-7,8,-6,6,-8,7,-5,8,-7,6,-6,8,-8,7,-5,6,-7,8,
-6,7,-5,8,-7,6,-6,7,-5,8,-7,6,-5,7,-6,8,-7,6,-5,
7,-6,8,-5,7,-7,8,-6,6,-5,8,-6,7,-7,8,-5,6,-6,8,
-7,7,-6,8,-8,6,-5,7,-7,6,-6,8,-7,7,-5,6,-8,7,-6,
6,-7,7,-6,8,-8,6,-5,7,-7,6,-6,7,-8,6,-5,7,-7,6];
const MRI_CGCM3_rcp45 = [-6,8,-7,7,-5,8,-8,6,-6,7,-7,8,-5,7,-8,6,-6,8,-7,
8,-5,7,-6,9,-4,8,-6,7,-5,9,-6,7,-4,8,-6,7,-5,9,
-4,9,-5,8,-3,10,-5,9,-4,8,-6,10,-3,9,-5,8,-4,10,-3,
10,-4,11,-3,9,-5,10,-2,11,-4,9,-3,10,-5,11,-3,9,-4,10,
-4,10,-3,11,-5,9,-3,10,-4,11,-2,10,-4,9,-3,11,-5,10,-3];
const MRI_CGCM3_rcp60 = [7,-6,8,-8,6,-5,8,-7,7,-6,8,-5,6,-8,7,-6,8,-7,6,
-6,9,-5,8,-7,9,-4,8,-6,9,-5,7,-6,9,-4,8,-7,9,-5,
10,-4,11,-3,10,-5,9,-3,11,-4,10,-2,11,-4,9,-3,10,-5,11,
-3,12,-2,11,-4,12,-1,11,-3,12,-2,10,-4,12,-2,11,-3,12,-1,
12,-2,13,-1,12,-3,11,-1,13,-2,12,-1,13,-2,11,-3,12,-1,13];
const MRI_CGCM3_rcp85 = [-5,8,-6,7,-7,8,-5,6,-7,8,-6,7,-5,8,-6,7,-7,8,-5,
9,-4,8,-5,10,-3,9,-5,8,-4,10,-3,9,-5,8,-4,10,-3,9,
-2,12,-3,13,-1,12,-4,11,-2,13,-3,12,-1,14,-3,12,-2,13,-4,
14,-1,15,-2,14,0,16,-1,14,-2,15,0,14,-1,16,-2,15,0,14,
1,15,0,16,2,15,0,17,1,15,-1,16,2,18,0,15,1,16,2];

const NorESM1_hist = [6,-5,8,-6,4,-7,7,-3,5,-6,8,-4,3,-7,6,-5,7,-4,5,-6,7,-3,4,-6,6,-5,3];
const NorESM1_rcp26 = [7,-6,8,12,-5,-12,6,-7,9,-5,11,-6,7,-8,6,-4,8,-7,5,
-6,8,-5,7,-9,8,-4,7,-6,9,-5,7,-4,8,-6,7,-5,9,-4,
8,-5,9,-6,7,-4,8,-9,7,-5,9,-4,8,-6,7,-5,9,-4,8,
-5,8,-4,9,-6,7,-5,8,-4,9,-6,7,-5,8,-4,9,-6,7,-5,
7,-4,8,-5,6,-4,7,-3,8,-5,7,-4,6,-5,8,-4,7,-3,6];
const NorESM1_rcp45 = [-7,8,-6,9,-5,7,-8,6,-7,8,-5,7,-6,9,-7,6,-5,8,-6,
8,-5,9,-6,8,-4,10,-6,8,-5,9,-4,8,-6,10,-5,8,-4,9,
-4,10,-5,9,-3,11,-5,10,-4,9,-6,11,-3,10,-5,9,-4,11,-3,
11,-4,10,-5,12,-3,11,-4,10,-5,12,-3,11,-4,10,-2,12,-4,11,
-4,11,-3,12,-5,10,-3,11,-4,12,-2,11,-5,10,-3,12,-4,11,-3];
const NorESM1_rcp60 = [9,-7,10,-6,8,-9,11,-5,7,-8,10,-6,9,-7,8,-5,10,-8,7,
-6,10,-5,11,-7,9,-4,12,-6,10,-5,11,-4,9,-6,10,-5,12,-4,
12,-5,11,-4,13,-6,12,-3,11,-5,13,-4,12,-6,11,-3,13,-5,12,
-4,13,-3,14,-5,12,-4,13,-2,14,-5,13,-3,12,-4,14,-2,13,-4,
14,-3,15,-4,13,-2,14,-4,15,-3,14,-2,13,-4,15,-3,14,-2,15];
const NorESM1_rcp85 = [-8,9,-10,8,-6,10,-9,7,-5,9,-8,10,-6,8,-9,7,-6,10,-7,
10,-6,9,-7,11,-5,10,-6,9,-4,11,-7,10,-5,9,-6,11,-5,10,
-5,13,-4,12,-6,14,-3,13,-5,12,-4,14,-6,13,-3,12,-5,14,-4,
16,-4,15,-3,17,-5,16,-2,15,-4,17,-3,16,-5,18,-2,16,-4,17,
-2,20,-1,21,-3,19,0,22,-2,20,-1,23,-3,21,0,20,-2,22,-1];

// Axis ticks and the baseline marker
const X_TICKS = [2012, 2027, 2042, 2057, 2072, 2087];
const Y_TICKS = [-1, 0, 1, 2];
const BASELINE_END = 2018.7;

const SCENARIOS = ['historical', 'RCP2.6', 'RCP4.5', 'RCP6.0', 'RCP8.5'];
const SCENARIO_COLORS = {
  'historical': '#000004',
  'RCP2.6': '#4b0c6b',
  'RCP4.5': '#a52c60',
  'RCP6.0': '#ed6925',
  'RCP8.5': '#f7d13d'
};

const PANELS = [
  { name: 'ACCESS1-0', hist: ACCESS1_0_hist, runs: { 'RCP4.5': ACCESS1_0_rcp45, 'RCP8.5': ACCESS1_0_rcp85 } },
  { name: 'bcc-csm1-1-m', hist: bcc_csm1_1_m_hist, runs: { 'RCP2.6': bcc_csm1_1_m_rcp26, 'RCP4.5': bcc_csm1_1_m_rcp45, 'RCP6.0': bcc_csm1_1_m_rcp60, 'RCP8.5': bcc_csm1_1_m_rcp85 } },
  { name: 'BNU-ESM', hist: BNU_ESM_hist, runs: { 'RCP2.6': BNU_ESM_rcp26, 'RCP4.5': BNU_ESM_rcp45, 'RCP8.5': BNU_ESM_rcp85 } },
  { name: 'CanESM2', hist: CanESM2_hist, runs: { 'RCP2.6': CanESM2_rcp26, 'RCP4.5': CanESM2_rcp45, 'RCP8.5': CanESM2_rcp85 } },
  { name: 'CCSM4', hist: CCSM4_hist, runs: { 'RCP2.6': CCSM4_rcp26, 'RCP4.5': CCSM4_rcp45, 'RCP6.0': CCSM4_rcp60, 'RCP8.5': CCSM4_rcp85 } },
  { name: 'CNRM-CM5', hist: CNRM_CM5_hist, runs: { 'RCP2.6': CNRM_CM5_rcp26, 'RCP4.5': CNRM_CM5_rcp45, 'RCP8.5': CNRM_CM5_rcp85 } },
  { name: 'CSIRO-Mk3-6-0', hist: CSIRO_Mk3_6_0_hist, runs: { 'RCP2.6': CSIRO_Mk3_6_0_rcp26, 'RCP4.5': CSIRO_Mk3_6_0_rcp45, 'RCP6.0': CSIRO_Mk3_6_0_rcp60, 'RCP8.5': CSIRO_Mk3_6_0_rcp85 } },
  { name: 'EC-EARTH', hist: EC_EARTH_hist, runs: { 'RCP2.6': EC_EARTH_rcp26, 'RCP4.5': EC_EARTH_rcp45, 'RCP8.5': EC_EARTH_rcp85 } },
  { name: 'FGOALS-g2', hist: FGOALS_g2_hist, runs: { 'RCP2.6': FGOALS_g2_rcp26, 'RCP4.5': FGOALS_g2_rcp45, 'RCP8.5': FGOALS_g2_rcp85 } },
  { name: 'FIO-ESM', hist: FIO_ESM_hist, runs: { 'RCP2.6': FIO_ESM_rcp26, 'RCP4.5': FIO_ESM_rcp45, 'RCP6.0': FIO_ESM_rcp60, 'RCP8.5': FIO_ESM_rcp85 } },
  { name: 'GFDL-ESM2G', hist: GFDL_ESM2G_hist, runs: { 'RCP2.6': GFDL_ESM2G_rcp26, 'RCP4.5': GFDL_ESM2G_rcp45, 'RCP6.0': GFDL_ESM2G_rcp60, 'RCP8.5': GFDL_ESM2G_rcp85 } },
  { name: 'GISS-E2-H', hist: GISS_E2_H_hist, runs: { 'RCP2.6': GISS_E2_H_rcp26, 'RCP4.5': GISS_E2_H_rcp45, 'RCP6.0': GISS_E2_H_rcp60, 'RCP8.5': GISS_E2_H_rcp85 } },
  { name: 'GISS-E2-R', hist: GISS_E2_R_hist, runs: { 'RCP2.6': GISS_E2_R_rcp26, 'RCP4.5': GISS_E2_R_rcp45, 'RCP6.0': GISS_E2_R_rcp60, 'RCP8.5': GISS_E2_R_rcp85 } },
  { name: 'inmcm4', hist: inmcm4_hist, runs: { 'RCP4.5': inmcm4_rcp45, 'RCP8.5': inmcm4_rcp85 } },
  { name: 'IPSL-CM5A-LR', hist: IPSL_CM5A_LR_hist, runs: { 'RCP2.6': IPSL_CM5A_LR_rcp26, 'RCP4.5': IPSL_CM5A_LR_rcp45, 'RCP6.0': IPSL_CM5A_LR_rcp60, 'RCP8.5': IPSL_CM5A_LR_rcp85 } },
  { name: 'IPSL-CM5A-MR', hist: IPSL_CM5A_MR_hist, runs: { 'RCP2.6': IPSL_CM5A_MR_rcp26, 'RCP4.5': IPSL_CM5A_MR_rcp45, 'RCP6.0': IPSL_CM5A_MR_rcp60, 'RCP8.5': IPSL_CM5A_MR_rcp85 } },
  { name: 'MIROC-ESM-CHEM', hist: MIROC_ESM_CHEM_hist, runs: { 'RCP2.6': MIROC_ESM_CHEM_rcp26, 'RCP4.5': MIROC_ESM_CHEM_rcp45, 'RCP6.0': MIROC_ESM_CHEM_rcp60, 'RCP8.5': MIROC_ESM_CHEM_rcp85 } },
  { name: 'MIROC5', hist: MIROC5_hist, runs: { 'RCP2.6': MIROC5_rcp26, 'RCP4.5': MIROC5_rcp45, 'RCP6.0': MIROC5_rcp60, 'RCP8.5': MIROC5_rcp85 } },
  { name: 'MPI-ESM-MR', hist: MPI_ESM_MR_hist, runs: { 'RCP2.6': MPI_ESM_MR_rcp26, 'RCP4.5': MPI_ESM_MR_rcp45, 'RCP8.5': MPI_ESM_MR_rcp85 } },
  { name: 'MRI-CGCM3', hist: MRI_CGCM3_hist, runs: { 'RCP2.6': MRI_CGCM3_rcp26, 'RCP4.5': MRI_CGCM3_rcp45, 'RCP6.0': MRI_CGCM3_rcp60, 'RCP8.5': MRI_CGCM3_rcp85 } },
  { name: 'NorESM1', hist: NorESM1_hist, runs: { 'RCP2.6': NorESM1_rcp26, 'RCP4.5': NorESM1_rcp45, 'RCP6.0': NorESM1_rcp60, 'RCP8.5': NorESM1_rcp85 } }
];

// Time placement of samples
const HIST_START = 1997, HIST_STEP = 1 / 3;
const RUN_START = 2006, RUN_STEP = 1;
const VALUE_SCALE = 0.1;

// Layout
const FONT = '"Liberation Sans", Arial, Helvetica, sans-serif';
const X_MIN = 1997, X_MAX = 2101.1;
const Y_MIN = -1.82, Y_MAX = 2.98;
const PANEL_W = 354, PANEL_H = 111.5, STRIP_H = 31.7;
const COL_LEFT = [63.3, 428.3, 793];
const ROW_TOP = 123.3, ROW_PITCH = 154.17;
const N_ROWS = 7;

const MAJOR_GRID = { color: '#e8e8e8', width: 1.3, type: 'solid' };
const MINOR_GRID = { color: '#efefef', width: 0.8, type: 'solid' };

// Background grid: major lines at the labelled ticks, finer lines between
const gridLineItems = [];
for (let n = -8; 2012 + n * 1.875 <= X_MAX; n++) {
  gridLineItems.push({ xAxis: 2012 + n * 1.875, lineStyle: n % 8 === 0 ? MAJOR_GRID : MINOR_GRID });
}
for (let n = -5; n <= 8; n++) {
  gridLineItems.push({ yAxis: n / 3, lineStyle: n % 3 === 0 ? MAJOR_GRID : MINOR_GRID });
}

const grids = [], xAxes = [], yAxes = [], series = [], graphics = [];

PANELS.forEach((panel, k) => {
  const row = Math.floor(k / 3), col = k % 3;
  const left = COL_LEFT[col];
  const top = ROW_TOP + row * ROW_PITCH;
  const isBottom = row === N_ROWS - 1;
  const isLeft = col === 0;

  grids.push({
    left: left, top: top, width: PANEL_W, height: PANEL_H,
    show: true, backgroundColor: '#ffffff', borderColor: '#333333', borderWidth: 1.3
  });

  xAxes.push({
    type: 'value', gridIndex: k, min: X_MIN, max: X_MAX,
    axisLine: { show: false, onZero: false },
    splitLine: { show: false },
    axisTick: { show: isBottom, customValues: X_TICKS, length: 5, lineStyle: { color: '#333333', width: 1 } },
    axisLabel: { show: isBottom, customValues: X_TICKS, fontSize: 17, fontFamily: FONT, color: '#333333', margin: 8,
      formatter: v => String(v) }
  });

  yAxes.push({
    type: 'value', gridIndex: k, min: Y_MIN, max: Y_MAX,
    axisLine: { show: false, onZero: false },
    splitLine: { show: false },
    axisTick: { show: isLeft, customValues: Y_TICKS, length: 5, lineStyle: { color: '#333333', width: 1 } },
    axisLabel: { show: isLeft, customValues: Y_TICKS, fontSize: 17, fontFamily: FONT, color: '#333333', margin: 10,
      formatter: v => String(v) }
  });

  // panel background grid
  series.push({
    type: 'line', name: 'panel-grid', xAxisIndex: k, yAxisIndex: k, data: [], silent: true, z: 1,
    markLine: { silent: true, symbol: ['none', 'none'], label: { show: false }, animation: false, data: gridLineItems }
  });

  const lineSeries = (name, points) => ({
    type: 'line', name: name, xAxisIndex: k, yAxisIndex: k,
    data: points, showSymbol: false, symbol: 'none', silent: true, z: 2,
    color: SCENARIO_COLORS[name],
    lineStyle: { color: SCENARIO_COLORS[name], width: 1.6 },
    emphasis: { disabled: true }
  });

  series.push(lineSeries('historical', panel.hist.map((v, i) => [HIST_START + i * HIST_STEP, v * VALUE_SCALE])));

  SCENARIOS.slice(1).forEach(sc => {
    const vals = panel.runs[sc];
    if (!vals) return;
    series.push(lineSeries(sc, vals.map((v, i) => [RUN_START + i * RUN_STEP, v * VALUE_SCALE])));
  });

  // end of the 1997-2018 reference period
  series.push({
    type: 'line', name: 'baseline-end', xAxisIndex: k, yAxisIndex: k, data: [], silent: true, z: 4,
    markLine: { silent: true, symbol: ['none', 'none'], label: { show: false }, animation: false,
      lineStyle: { color: '#ff0000', width: 3, type: 'solid' }, data: [{ xAxis: BASELINE_END }] }
  });

  // facet strip
  graphics.push({
    type: 'rect', silent: true, z: 10,
    shape: { x: left, y: top - STRIP_H, width: PANEL_W, height: STRIP_H },
    style: { fill: '#d9d9d9', stroke: '#333333', lineWidth: 1.3 }
  });
  graphics.push({
    type: 'text', silent: true, z: 11,
    x: left + PANEL_W / 2, y: top - STRIP_H / 2,
    style: { text: panel.name, fontSize: 17, fontFamily: FONT, fill: '#1a1a1a',
      textAlign: 'center', textVerticalAlign: 'middle', align: 'center', verticalAlign: 'middle' }
  });
});

// axis titles
const plotMidX = (COL_LEFT[0] + COL_LEFT[2] + PANEL_W) / 2;
const plotMidY = (ROW_TOP - STRIP_H + ROW_TOP + (N_ROWS - 1) * ROW_PITCH + PANEL_H) / 2;
graphics.push({
  type: 'text', silent: true, z: 11, x: plotMidX, y: 1205,
  style: { text: 'Time', fontSize: 21, fontFamily: FONT, fill: '#1a1a1a',
    textAlign: 'center', textVerticalAlign: 'middle', align: 'center', verticalAlign: 'middle' }
});
graphics.push({
  type: 'text', silent: true, z: 11, x: 22, y: plotMidY, rotation: Math.PI / 2,
  style: { text: 'Deviation from monthly mean (1997-2018)', fontSize: 25, fontFamily: FONT, fill: '#1a1a1a',
    textAlign: 'center', textVerticalAlign: 'middle', align: 'center', verticalAlign: 'middle' }
});

const chart = echarts.init(document.getElementById('chart'), null, { renderer: 'canvas' });
chart.setOption({
  animation: false,
  backgroundColor: '#ffffff',
  legend: {
    data: SCENARIOS, left: 200, top: 5, itemWidth: 68, itemHeight: 1.5, itemGap: 20,
    icon: 'rect',
    selectedMode: false,
    textStyle: { fontSize: 17, fontFamily: FONT, color: '#1a1a1a', padding: [0, 0, 0, 13] }
  },
  grid: grids,
  xAxis: xAxes,
  yAxis: yAxes,
  series: series,
  graphic: { elements: graphics }
});
</script>
</body>
</html>
